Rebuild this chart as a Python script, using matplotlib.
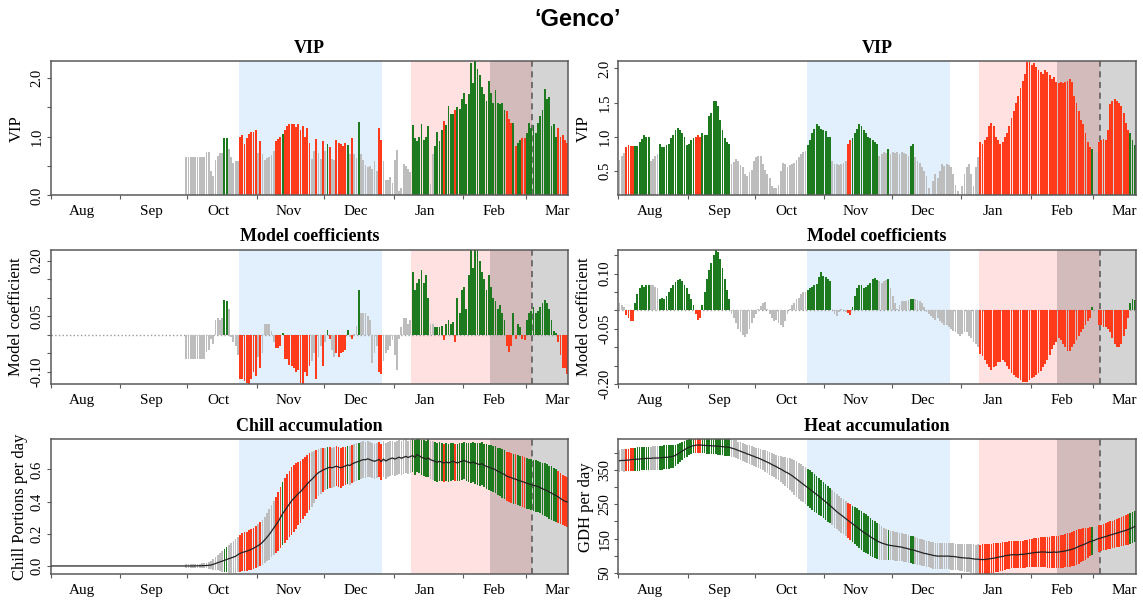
import numpy as np
import pandas as pd
import matplotlib
matplotlib.use("Agg")
import matplotlib.pyplot as plt

plt.rcParams['font.family'] = ['Liberation Serif', 'DejaVu Serif']

# season axis: one bar per day
season = pd.date_range("2018-08-01", "2019-03-19", freq="D")
chill_first_day = "2018-09-30"   # chill records start here, earlier days are empty

month_starts = pd.date_range("2018-08-01", "2019-03-01", freq="MS")
month_names = ["Aug", "Sep", "Oct", "Nov", "Dec", "Jan", "Feb", "Mar"]

chill_phase = ("2018-10-24", "2018-12-27")
heat_phase = ("2019-01-09", "2019-03-04")
bloom_range = ("2019-02-13", "2019-03-20")
bloom_median = "2019-03-04"

# ---- chill side (from chill_first_day) ----
vip_chill = [
    0.66, 0.66, 0.66, 0.66, 0.66, 0.66, 0.66, 0.66, 0.66, 0.74,
    0.74, 0.42, 0.33, 0.60, 0.68, 0.72, 0.73, 0.98, 0.97, 0.79,
    0.66, 0.56, 0.58, 0.59, 0.99, 1.03, 0.88, 0.97, 1.05, 1.08,
    1.08, 1.12, 0.72, 0.92, 0.70, 0.60, 0.63, 0.66, 0.69, 0.75,
    0.93, 0.96, 1.00, 1.05, 1.12, 1.18, 1.22, 1.22, 1.22, 1.17,
    1.22, 1.12, 1.18, 1.00, 1.15, 0.90, 0.62, 0.75, 0.96, 0.72,
    0.62, 0.92, 0.75, 0.88, 0.82, 0.62, 0.60, 0.95, 0.90, 0.88,
    0.85, 0.90, 0.86, 0.70, 0.97, 0.70, 0.63, 1.25, 0.70, 0.60,
    0.52, 0.48, 0.50, 0.45, 0.58, 0.42, 1.15, 0.95, 0.58, 0.26,
    0.27, 0.31, 0.22, 0.60, 0.78, 0.08, 0.12, 0.53, 0.50, 0.45,
    0.40, 1.20, 0.98, 0.92, 1.00, 1.22, 0.95, 1.00, 1.18, 0.20,
    0.70, 0.85, 1.08, 0.92, 1.12, 1.27, 1.20, 1.52, 1.38, 1.38,
    1.45, 1.50, 1.48, 1.65, 1.75, 1.55, 1.72, 2.25, 1.92, 2.29,
    2.15, 2.05, 1.85, 1.72, 1.60, 1.95, 1.75, 1.58, 1.80, 1.58,
    1.55, 1.58, 1.45, 1.44, 1.30, 1.24, 1.24, 0.85, 0.89, 0.95,
    0.98, 0.98, 1.06, 1.24, 1.15, 1.20, 1.06, 1.24, 1.35, 1.46,
    1.81, 1.64, 1.68, 1.19, 1.22, 1.00, 1.15, 1.00, 1.03, 0.95,
    0.90]
coef_chill = [
    -0.065, -0.065, -0.065, -0.065, -0.065, -0.065, -0.065, -0.065, -0.065, -0.045,
    -0.040, -0.012, -0.025, 0.040, 0.045, 0.040, 0.045, 0.093, 0.092, 0.070,
    -0.005, -0.020, -0.030, -0.055, -0.120, -0.120, -0.125, -0.130, -0.135, -0.120,
    -0.100, -0.110, -0.060, -0.090, -0.050, 0.030, 0.030, 0.030, 0.010, -0.020,
    -0.035, -0.035, -0.030, 0.004, -0.065, -0.065, -0.080, -0.085, -0.090, -0.100,
    -0.095, -0.130, -0.140, -0.100, -0.110, -0.085, -0.070, -0.050, -0.120, -0.060,
    -0.030, -0.085, -0.020, 0.012, -0.010, -0.040, -0.060, -0.050, -0.060, -0.050,
    -0.045, -0.040, 0.012, -0.005, -0.010, 0.002, 0.025, 0.120, 0.060, 0.060,
    0.060, 0.050, 0.040, -0.075, -0.050, -0.030, -0.100, -0.105, -0.070, -0.050,
    -0.040, -0.030, -0.015, -0.055, -0.095, -0.010, 0.020, 0.045, 0.045, 0.030,
    0.040, 0.170, 0.120, 0.140, 0.150, 0.175, 0.140, 0.160, 0.100, 0.030,
    0.030, 0.020, 0.022, 0.020, 0.025, -0.015, 0.030, 0.040, 0.030, 0.035,
    -0.020, 0.100, 0.060, 0.120, 0.130, 0.070, 0.160, 0.230, 0.180, 0.230,
    0.230, 0.200, 0.170, 0.150, 0.120, 0.160, 0.130, 0.100, 0.090, 0.070,
    0.080, 0.060, 0.040, -0.030, -0.045, -0.030, 0.060, -0.010, 0.030, 0.020,
    -0.010, -0.015, 0.040, 0.060, 0.065, 0.075, 0.060, 0.065, 0.075, 0.085,
    0.093, 0.085, 0.070, 0.040, 0.010, 0.005, -0.020, -0.055, -0.090, -0.090,
    -0.105]
chill_mean = [
    0.000, 0.000, 0.000, 0.000, 0.000, 0.001, 0.001, 0.002, 0.002, 0.003,
    0.004, 0.006, 0.010, 0.015, 0.020, 0.025, 0.030, 0.035, 0.040, 0.045,
    0.050, 0.055, 0.060, 0.070, 0.078, 0.084, 0.088, 0.092, 0.097, 0.103,
    0.110, 0.118, 0.126, 0.135, 0.147, 0.162, 0.178, 0.195, 0.215, 0.235,
    0.255, 0.275, 0.300, 0.325, 0.345, 0.365, 0.385, 0.405, 0.420, 0.435,
    0.450, 0.462, 0.478, 0.495, 0.510, 0.525, 0.538, 0.552, 0.568, 0.580,
    0.588, 0.596, 0.602, 0.608, 0.614, 0.610, 0.615, 0.620, 0.614, 0.610,
    0.616, 0.621, 0.628, 0.624, 0.634, 0.640, 0.646, 0.650, 0.656, 0.661,
    0.660, 0.666, 0.660, 0.655, 0.650, 0.656, 0.662, 0.648, 0.664, 0.652,
    0.660, 0.666, 0.671, 0.664, 0.670, 0.676, 0.669, 0.675, 0.681, 0.674,
    0.680, 0.686, 0.674, 0.692, 0.684, 0.675, 0.670, 0.664, 0.671, 0.660,
    0.655, 0.650, 0.644, 0.651, 0.645, 0.640, 0.646, 0.640, 0.645, 0.651,
    0.645, 0.640, 0.646, 0.651, 0.656, 0.649, 0.644, 0.640, 0.646, 0.639,
    0.634, 0.630, 0.636, 0.624, 0.619, 0.614, 0.608, 0.604, 0.598, 0.588,
    0.583, 0.574, 0.569, 0.558, 0.553, 0.549, 0.543, 0.539, 0.533, 0.528,
    0.524, 0.519, 0.514, 0.509, 0.505, 0.500, 0.498, 0.493, 0.487, 0.479,
    0.474, 0.468, 0.459, 0.453, 0.444, 0.438, 0.429, 0.419, 0.410, 0.402,
    0.398]
chill_sd = [
    0.010, 0.010, 0.011, 0.011, 0.012, 0.012, 0.013, 0.014, 0.015, 0.017,
    0.020, 0.026, 0.033, 0.040, 0.048, 0.056, 0.065, 0.072, 0.080, 0.088,
    0.095, 0.100, 0.105, 0.110, 0.115, 0.118, 0.120, 0.122, 0.124, 0.126,
    0.128, 0.130, 0.133, 0.136, 0.140, 0.145, 0.150, 0.156, 0.162, 0.168,
    0.174, 0.182, 0.190, 0.196, 0.200, 0.205, 0.208, 0.210, 0.210, 0.205,
    0.198, 0.192, 0.186, 0.182, 0.180, 0.176, 0.170, 0.162, 0.154, 0.148,
    0.142, 0.137, 0.133, 0.130, 0.128, 0.126, 0.125, 0.124, 0.124, 0.123,
    0.122, 0.121, 0.120, 0.119, 0.118, 0.117, 0.116, 0.115, 0.114, 0.113,
    0.112, 0.111, 0.110, 0.110, 0.110, 0.110, 0.111, 0.112, 0.112, 0.111,
    0.110, 0.109, 0.108, 0.108, 0.107, 0.107, 0.106, 0.106, 0.105, 0.105,
    0.105, 0.105, 0.106, 0.107, 0.108, 0.110, 0.112, 0.114, 0.116, 0.118,
    0.119, 0.120, 0.120, 0.120, 0.120, 0.120, 0.119, 0.118, 0.117, 0.116,
    0.115, 0.115, 0.115, 0.116, 0.117, 0.118, 0.120, 0.122, 0.124, 0.127,
    0.130, 0.132, 0.134, 0.136, 0.138, 0.140, 0.142, 0.144, 0.146, 0.148,
    0.150, 0.151, 0.152, 0.153, 0.154, 0.155, 0.155, 0.156, 0.156, 0.156,
    0.157, 0.157, 0.158, 0.158, 0.159, 0.159, 0.160, 0.160, 0.161, 0.162,
    0.163, 0.164, 0.165, 0.165, 0.164, 0.163, 0.162, 0.160, 0.158, 0.156,
    0.155]

# ---- heat side (whole season) ----
vip_heat = [
    0.66, 0.72, 0.76, 0.85, 0.88, 0.87, 0.87, 0.86, 0.86, 0.93,
    0.97, 1.03, 0.99, 1.00, 0.65, 0.68, 0.72, 0.75, 0.89, 0.85,
    0.85, 0.88, 0.90, 0.98, 1.03, 1.10, 1.13, 1.10, 1.05, 1.00,
    0.88, 0.90, 0.95, 0.98, 1.00, 1.02, 1.00, 1.05, 1.03, 1.02,
    1.30, 1.35, 1.52, 1.52, 1.45, 1.25, 1.10, 0.98, 0.93, 0.90,
    0.60, 0.63, 0.68, 0.65, 0.58, 0.55, 0.45, 0.42, 0.48, 0.52,
    0.65, 0.70, 0.72, 0.72, 0.60, 0.52, 0.45, 0.40, 0.28, 0.25,
    0.25, 0.30, 0.50, 0.62, 0.60, 0.55, 0.58, 0.60, 0.62, 0.66,
    0.70, 0.75, 0.78, 0.79, 0.88, 0.95, 1.05, 1.12, 1.18, 1.15,
    1.12, 1.10, 1.08, 1.00, 1.00, 0.65, 0.60, 0.60, 0.58, 0.60,
    0.62, 0.65, 0.90, 0.95, 0.98, 1.05, 1.12, 1.18, 1.15, 1.10,
    1.05, 1.00, 0.98, 0.95, 0.92, 0.90, 0.72, 0.75, 0.78, 0.76,
    0.82, 0.75, 0.78, 0.76, 0.77, 0.75, 0.78, 0.76, 0.75, 0.72,
    0.87, 0.89, 0.70, 0.65, 0.62, 0.55, 0.50, 0.42, 0.25, 0.15,
    0.35, 0.45, 0.40, 0.50, 0.60, 0.57, 0.60, 0.58, 0.55, 0.45,
    0.30, 0.20, 0.15, 0.28, 0.45, 0.55, 0.60, 0.45, 0.28, 0.55,
    0.70, 0.93, 0.90, 0.95, 1.00, 1.15, 1.20, 1.15, 1.00, 0.95,
    0.90, 0.92, 1.00, 1.05, 1.15, 1.28, 1.38, 1.50, 1.60, 1.72,
    1.82, 1.92, 2.10, 2.11, 2.05, 2.08, 2.02, 1.98, 1.95, 1.92,
    1.97, 1.95, 1.90, 1.85, 1.88, 1.80, 1.78, 1.80, 1.78, 1.80,
    1.82, 1.85, 1.80, 1.60, 1.50, 1.38, 1.25, 1.18, 1.05, 0.92,
    0.85, 0.82, 0.79, 0.78, 0.92, 0.95, 0.97, 0.95, 1.10, 1.48,
    1.53, 1.55, 1.52, 1.50, 1.45, 1.35, 1.20, 1.10, 1.05, 0.95,
    0.88]
coef_heat = [
    0.020, 0.015, 0.010, -0.012, -0.020, -0.028, -0.030, 0.020, 0.045, 0.062,
    0.068, 0.065, 0.070, 0.068, 0.070, 0.068, 0.064, 0.060, 0.032, 0.035,
    0.030, 0.040, 0.050, 0.060, 0.070, 0.078, 0.083, 0.085, 0.080, 0.070,
    0.060, 0.045, 0.030, 0.015, -0.010, -0.025, -0.020, 0.015, 0.050, 0.085,
    0.110, 0.130, 0.150, 0.166, 0.160, 0.140, 0.115, 0.085, 0.055, 0.030,
    -0.010, -0.020, -0.035, -0.050, -0.060, -0.068, -0.073, -0.065, -0.050, -0.035,
    -0.020, -0.010, 0.005, 0.012, 0.020, 0.024, 0.005, -0.010, -0.020, -0.030,
    -0.025, -0.035, -0.040, -0.046, -0.030, -0.010, 0.005, 0.015, 0.020, 0.030,
    0.035, 0.045, 0.050, 0.050, 0.055, 0.060, 0.065, 0.068, 0.072, 0.090,
    0.105, 0.095, 0.090, 0.085, 0.080, 0.000, -0.010, -0.015, -0.005, 0.005,
    0.000, -0.005, -0.008, -0.012, 0.010, 0.040, 0.060, 0.070, 0.068, 0.060,
    0.065, 0.070, 0.075, 0.085, 0.087, 0.083, 0.080, 0.075, 0.080, 0.082,
    0.085, 0.060, 0.040, 0.020, 0.005, 0.015, 0.026, 0.025, 0.026, 0.028,
    0.030, 0.030, 0.030, 0.028, 0.025, 0.020, 0.010, -0.005, -0.010, -0.015,
    -0.020, -0.025, -0.020, -0.030, -0.035, -0.040, -0.040, -0.045, -0.050, -0.055,
    -0.060, -0.065, -0.070, -0.065, -0.060, -0.060, -0.070, -0.075, -0.085, -0.090,
    -0.100, -0.118, -0.125, -0.136, -0.145, -0.155, -0.162, -0.155, -0.150, -0.140,
    -0.140, -0.135, -0.140, -0.150, -0.160, -0.170, -0.175, -0.180, -0.185, -0.190,
    -0.194, -0.196, -0.195, -0.190, -0.185, -0.180, -0.175, -0.170, -0.165, -0.155,
    -0.145, -0.135, -0.120, -0.105, -0.095, -0.085, -0.075, -0.080, -0.090, -0.100,
    -0.110, -0.110, -0.100, -0.090, -0.080, -0.070, -0.060, -0.050, -0.040, -0.030,
    -0.020, 0.010, 0.000, -0.002, -0.040, -0.040, -0.045, -0.045, -0.050, -0.060,
    -0.075, -0.090, -0.100, -0.100, -0.090, -0.070, -0.050, -0.020, 0.020, 0.030,
    0.028]
heat_mean = [
    376, 377, 377, 378, 378, 379, 380, 380, 381, 381,
    382, 382, 383, 383, 383, 384, 384, 384, 385, 385,
    386, 386, 387, 388, 389, 392, 396, 400, 404, 408,
    412, 415, 418, 420, 421, 422, 422, 421, 421, 420,
    420, 420, 419, 419, 418, 418, 417, 416, 416, 415,
    413, 411, 409, 406, 404, 401, 399, 396, 394, 391,
    389, 386, 384, 381, 378, 375, 372, 369, 365, 362,
    359, 355, 352, 348, 344, 341, 337, 333, 328, 323,
    318, 313, 308, 303, 298, 293, 288, 283, 278, 273,
    268, 262, 257, 251, 246, 240, 234, 228, 223, 218,
    213, 208, 203, 198, 193, 188, 183, 178, 173, 168,
    164, 160, 155, 151, 147, 143, 140, 137, 135, 133,
    131, 130, 129, 128, 127, 126, 125, 123, 122, 120,
    118, 117, 115, 113, 111, 109, 107, 106, 104, 103,
    101, 100, 99, 99, 99, 99, 99, 99, 98, 98,
    97, 96, 95, 94, 94, 93, 93, 92, 91, 90,
    90, 89, 89, 89, 90, 91, 92, 93, 94, 96,
    97, 98, 100, 101, 102, 103, 103, 103, 103, 104,
    104, 105, 106, 107, 108, 109, 110, 110, 111, 111,
    111, 110, 110, 110, 111, 110, 111, 112, 113, 114,
    116, 117, 119, 121, 124, 127, 130, 132, 135, 138,
    141, 143, 145, 148, 150, 152, 154, 156, 158, 160,
    162, 164, 166, 168, 170, 172, 174, 176, 179, 182,
    185]
heat_sd = [
    32, 32, 33, 33, 33, 33, 34, 34, 34, 34,
    34, 34, 34, 34, 34, 34, 35, 35, 35, 35,
    35, 35, 35, 34, 33, 31, 29, 27, 26, 25,
    24, 23, 23, 22, 22, 22, 22, 22, 22, 23,
    23, 23, 23, 24, 24, 24, 24, 25, 25, 25,
    25, 25, 26, 26, 26, 26, 26, 26, 27, 27,
    27, 28, 28, 29, 30, 31, 32, 33, 34, 34,
    35, 36, 38, 40, 42, 44, 46, 48, 50, 51,
    52, 53, 53, 54, 54, 55, 55, 55, 54, 54,
    53, 53, 53, 52, 52, 52, 52, 51, 51, 51,
    51, 51, 51, 52, 53, 54, 55, 56, 57, 57,
    57, 56, 55, 54, 53, 52, 51, 49, 47, 45,
    44, 43, 42, 42, 42, 41, 41, 41, 40, 40,
    40, 40, 39, 39, 39, 39, 38, 38, 38, 38,
    38, 38, 38, 38, 38, 38, 38, 38, 38, 38,
    38, 38, 39, 39, 40, 40, 41, 41, 42, 42,
    43, 43, 44, 44, 44, 44, 43, 43, 42, 42,
    41, 41, 40, 40, 40, 39, 39, 39, 39, 39,
    39, 40, 40, 41, 41, 42, 42, 43, 43, 44,
    44, 45, 45, 46, 46, 46, 47, 47, 48, 48,
    49, 49, 50, 50, 50, 50, 49, 48, 46, 44,
    42, 40, 39, 38, 38, 38, 38, 39, 39, 40,
    40, 41, 41, 42, 42, 43, 44, 44, 45, 45,
    46]

GREY = "#bdbdbd"
GREEN = "#1e7a1e"
RED = "#ff3b1c"
BLUE_BG = "#e2effc"
PINK_BG = "#ffe1e1"
BOX = "#5a5a5a"
VIP_CUT = 0.8


def pos(date):
    return (pd.Timestamp(date) - season[0]).days


def on_season(values, first_day):
    idx = pd.date_range(first_day, periods=len(values), freq="D")
    return pd.Series(values, index=idx).reindex(season, fill_value=0.0).to_numpy()


def bar_colors(vip, coef):
    cols = []
    for v, c in zip(vip, coef):
        if v < VIP_CUT:
            cols.append(GREY)
        elif c < 0:
            cols.append(RED)
        else:
            cols.append(GREEN)
    return cols


def style_axis(ax, ylim, yticks, ylabels, ylabel, title, label_x=-0.051):
    ax.axvspan(pos(chill_phase[0]), pos(chill_phase[1]), color=BLUE_BG, lw=0, zorder=0)
    ax.axvspan(pos(heat_phase[0]), pos(heat_phase[1]), color=PINK_BG, lw=0, zorder=0)
    ax.axvspan(pos(bloom_range[0]), pos(bloom_range[1]), color="black", alpha=0.17,
               lw=0, zorder=0.1)
    ax.axvline(pos(bloom_median), color="#555555", ls=(0, (4, 3)), lw=1.1, zorder=0.5)

    ax.set_xlim(0, len(season))
    ax.set_ylim(*ylim)
    ax.set_xticks([pos(d) for d in month_starts])
    ax.set_xticklabels([])
    ax.set_xticks([pos(d) + 14 for d in month_starts], minor=True)
    ax.set_xticklabels(month_names, minor=True, fontsize=11)
    ax.tick_params(axis="x", which="minor", length=0, pad=7)
    ax.tick_params(axis="x", which="major", length=3, color=BOX, width=0.8)

    ax.set_yticks(yticks)
    ax.set_yticklabels(ylabels, fontsize=10.5)
    ax.tick_params(axis="y", length=3, color=BOX, width=0.8, pad=2)
    plt.setp(ax.get_yticklabels(), rotation=90, va="center", ha="right")

    for sp in ax.spines.values():
        sp.set_color(BOX)
        sp.set_linewidth(1.1)
    ax.set_ylabel(ylabel, fontsize=12)
    ax.yaxis.set_label_coords(label_x, 0.5)
    ax.set_title(title, fontsize=13, fontweight="bold", pad=6)


fig = plt.figure(figsize=(11.43, 6.02), dpi=100)
fig.text(0.505, 1 - 19 / 602, "\u2018Genco\u2019", ha="center", va="center",
         fontsize=17, fontweight="bold", family=["Liberation Sans", "DejaVu Sans"])

x = np.arange(len(season)) + 0.5
lefts = [0.0444, 0.5410]
bottoms = [0.6753, 0.3616, 0.0465]
w, h = 0.4528, 0.2235

columns = [
    dict(vip=on_season(vip_chill, chill_first_day),
         coef=on_season(coef_chill, chill_first_day),
         mean=on_season(chill_mean, chill_first_day),
         sd=on_season(chill_sd, chill_first_day),
         vip_axis=((0, 2.29), [0, 0.5, 1.0, 1.5, 2.0], ["0.0", "", "1.0", "", "2.0"]),
         coef_axis=((-0.133, 0.229), [-0.10, -0.05, 0, 0.05, 0.10, 0.15, 0.20],
                    ["-0.10", "", "", "0.05", "", "", "0.20"]),
         acc_axis=((-0.05, 0.786), [0, 0.2, 0.4, 0.6], ["0.0", "0.2", "0.4", "0.6"]),
         acc_label="Chill Portions per day", acc_title="Chill accumulation",
         acc_label_x=-0.043),
    dict(vip=np.array(vip_heat), coef=np.array(coef_heat),
         mean=np.array(heat_mean, float), sd=np.array(heat_sd, float),
         vip_axis=((0.14, 2.11), [0.5, 1.0, 1.5, 2.0], ["0.5", "1.0", "1.5", "2.0"]),
         coef_axis=((-0.201, 0.165), [-0.20, -0.15, -0.10, -0.05, 0, 0.05, 0.10, 0.15],
                    ["-0.20", "", "", "-0.05", "", "", "0.10", ""]),
         acc_axis=((47, 438), [50, 100, 150, 200, 250, 300, 350, 400],
                   ["50", "", "150", "", "250", "", "350", ""]),
         acc_label="GDH per day", acc_title="Heat accumulation",
         acc_label_x=-0.048),
]

for left, col in zip(lefts, columns):
    cols = bar_colors(col["vip"], col["coef"])

    ax = fig.add_axes([left, bottoms[0], w, h])
    style_axis(ax, *col["vip_axis"], "VIP", "VIP")
    ax.bar(x, col["vip"], width=0.82, color=cols, lw=0, zorder=2)

    ax = fig.add_axes([left, bottoms[1], w, h])
    style_axis(ax, *col["coef_axis"], "Model coefficient", "Model coefficients")
    ax.axhline(0, color="#9a9a9a", ls=":", lw=1, zorder=1)
    ax.bar(x, col["coef"], width=0.82, color=cols, lw=0, zorder=2)

    ax = fig.add_axes([left, bottoms[2], w, h])
    style_axis(ax, *col["acc_axis"], col["acc_label"], col["acc_title"],
               label_x=col["acc_label_x"])
    ax.bar(x, 2 * col["sd"], bottom=col["mean"] - col["sd"], width=0.75,
           color=cols, lw=0, zorder=2)
    ax.plot(x, col["mean"], color="#222222", lw=0.9, zorder=3)

fig.savefig("out.png", dpi=100)
